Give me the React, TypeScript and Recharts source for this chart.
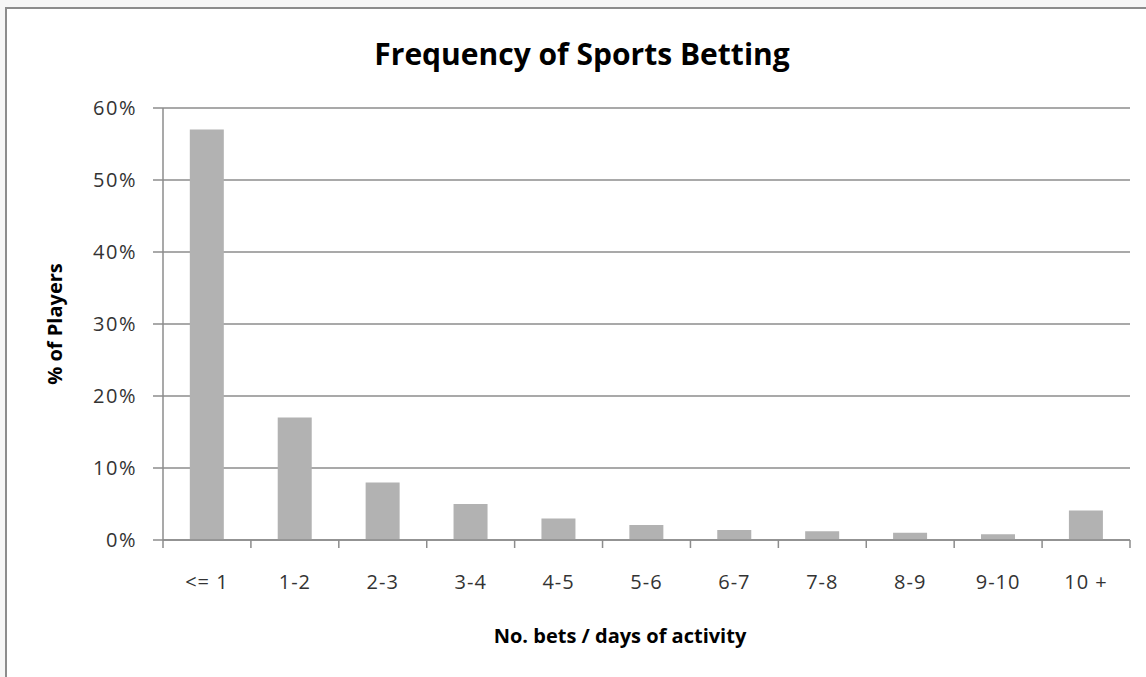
import { BarChart, Bar, XAxis, YAxis, CartesianGrid } from "recharts";

// buckets of bets / days of activity
const categories = ["<= 1", "1-2", "2-3", "3-4", "4-5", "5-6", "6-7", "7-8", "8-9", "9-10", "10 +"];
// % of players in each bucket
const playerShare = [57, 17, 8, 5, 3, 2.1, 1.4, 1.2, 1.0, 0.8, 4.1];
const yTicks = [0, 10, 20, 30, 40, 50, 60];

const data = categories.map((name, i) => ({ name, value: playerShare[i] }));

const FONT = "'Open Sans', 'Noto Sans', sans-serif";
const AXIS = "#8c8c8c";
const BAR = "#b2b2b2";

const CategoryTick = (props: any) => {
  const { x, y, payload, index, visibleTicksCount } = props;
  const half = payload && typeof payload.offset === "number" && payload.offset > 0 ? payload.offset : 44;
  return (
    <g>
      <line x1={x - half} x2={x - half} y1={y} y2={y + 8} stroke={AXIS} strokeWidth={1.5} />
      {index === visibleTicksCount - 1 && (
        <line x1={x + half} x2={x + half} y1={y} y2={y + 8} stroke={AXIS} strokeWidth={1.5} />
      )}
      <text
        x={x}
        y={y + 49}
        textAnchor="middle"
        fill="#333"
        fontFamily={FONT}
        fontSize={20}
        letterSpacing={1}
      >
        {payload.value}
      </text>
    </g>
  );
};

export default function App() {
  return (
    <div
      style={{
        position: "absolute",
        left: 0,
        top: 0,
        width: 1146,
        height: 677,
        background: "#f6f6f6",
        overflow: "hidden",
      }}
    >
      <div
        style={{
          position: "absolute",
          left: 5,
          top: 7,
          width: 1170,
          height: 700,
          border: "2px solid #8c8c8c",
          background: "#fff",
        }}
      />
      <div style={{ position: "absolute", left: 0, top: 0 }}>
        <BarChart
          width={1146}
          height={677}
          data={data}
          margin={{ top: 108, right: 16, bottom: 77, left: 103 }}
          barCategoryGap="30.5%"
        >
          <CartesianGrid vertical={false} stroke={AXIS} strokeWidth={1.5} />
          <XAxis
            dataKey="name"
            interval={0}
            height={60}
            tickLine={false}
            tickSize={0}
            tickMargin={0}
            axisLine={{ stroke: AXIS, strokeWidth: 1.5 }}
            tick={<CategoryTick />}
          />
          <YAxis
            width={60}
            domain={[0, 60]}
            ticks={yTicks}
            tickFormatter={(v: number) => `${v}%`}
            axisLine={{ stroke: AXIS, strokeWidth: 1.5 }}
            tickLine={{ stroke: AXIS, strokeWidth: 1.5 }}
            tickSize={10}
            tickMargin={16}
            tick={{ fill: "#333", fontFamily: FONT, fontSize: 20, letterSpacing: 1.5 }}
          />
          <Bar dataKey="value" fill={BAR} isAnimationActive={false} />
        </BarChart>
      </div>
      <svg
        width={1146}
        height={677}
        style={{ position: "absolute", left: 0, top: 0, pointerEvents: "none" }}
      >
        <text x={582} y={65} textAnchor="middle" fontFamily={FONT} fontWeight={700} fontSize={30} fill="#000">
          Frequency of Sports Betting
        </text>
        <text x={620} y={643} textAnchor="middle" fontFamily={FONT} fontWeight={700} fontSize={20} fill="#000">
          No. bets / days of activity
        </text>
        <text
          transform="translate(62,324) rotate(-90)"
          textAnchor="middle"
          fontFamily={FONT}
          fontWeight={700}
          fontSize={20}
          fill="#000"
        >
          % of Players
        </text>
      </svg>
    </div>
  );
}
